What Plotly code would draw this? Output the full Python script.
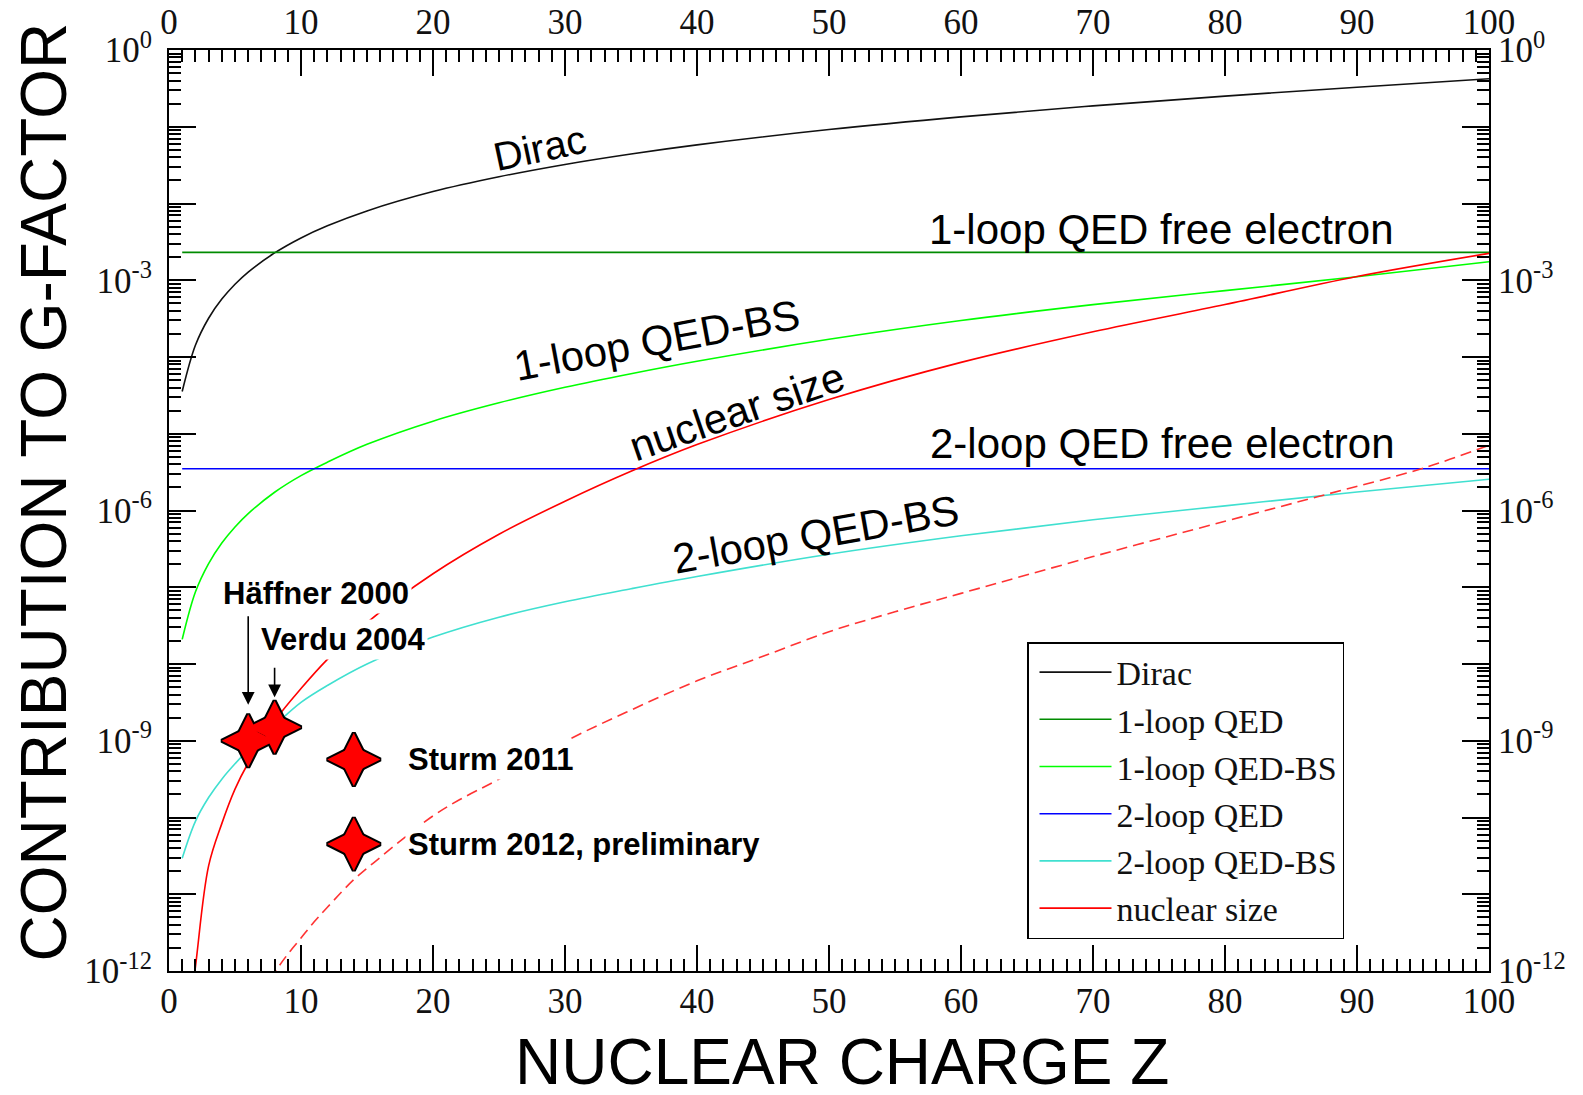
import plotly.graph_objects as go
import numpy as np

# ---------------- data ----------------
Z = [1, 2, 3, 4, 5, 6, 8, 10, 12, 15, 20, 25, 30, 35, 40, 50, 60, 70, 80, 90, 100]

dirac = [3.55e-5, 1.42e-4, 3.20e-4, 5.68e-4, 8.88e-4, 1.28e-3, 2.27e-3, 3.56e-3,
         5.12e-3, 8.01e-3, 1.43e-2, 2.23e-2, 3.23e-2, 4.42e-2, 5.81e-2, 9.19e-2,
         0.1346, 0.1871, 0.2508, 0.3278, 0.4217]

qed1_free = 2.31e-3          # 1-loop QED free electron
qed2_free = 3.5e-6           # 2-loop QED free electron

qed1_bs = [2.09e-8, 8.65e-8, 2.03e-7, 3.77e-7, 6.11e-7, 9.12e-7, 1.73e-6, 2.85e-6,
           4.26e-6, 7.28e-6, 1.46e-5, 2.53e-5, 4.03e-5, 6.05e-5, 8.79e-5, 1.70e-4,
           2.99e-4, 4.81e-4, 7.33e-4, 1.11e-3, 1.74e-3]

qed2_bs = [2.95e-11, 8.91e-11, 1.82e-10, 3.16e-10, 5.01e-10, 7.59e-10, 1.58e-9, 3.16e-9,
           5.25e-9, 1.00e-8, 2.24e-8, 4.07e-8, 6.46e-8, 9.55e-8, 1.38e-7, 2.69e-7,
           4.68e-7, 7.59e-7, 1.15e-6, 1.74e-6, 2.55e-6]

nuc_size = [4.0e-14, 1.12e-12, 2.34e-11, 8.32e-11, 2.34e-10, 5.13e-10, 1.81e-9, 4.79e-9,
            1.15e-8, 3.47e-8, 1.50e-7, 4.91e-7, 1.32e-6, 3.24e-6, 7.22e-6, 2.79e-5,
            8.51e-5, 2.13e-4, 4.82e-4, 1.12e-3, 2.24e-3]

Z_nuc_unc = [7, 8, 9, 10, 11, 12, 14, 16, 18, 20, 22, 25, 30, 35, 40, 45, 50, 55, 60,
             70, 80, 87, 95, 100]
nuc_unc = [5.01e-13, 9.55e-13, 1.66e-12, 2.69e-12, 4.37e-12, 6.76e-12, 1.55e-11, 3.02e-11,
           5.75e-11, 1.05e-10, 1.70e-10, 3.16e-10, 9.77e-10, 2.51e-9, 6.03e-9, 1.26e-8,
           2.63e-8, 4.79e-8, 8.32e-8, 2.51e-7, 7.24e-7, 1.51e-6, 3.55e-6, 7.08e-6]

exp_labels = ["Häffner 2000", "Verdu 2004", "Sturm 2011", "Sturm 2012, preliminary"]
exp_Z = [6, 8, 14, 14]
exp_prec = [1.0e-9, 1.5e-9, 5.7e-10, 4.5e-11]

x_tick_vals = [0, 10, 20, 30, 40, 50, 60, 70, 80, 90, 100]
y_decades = list(range(0, -13, -1))

# ---------------- layout helpers ----------------
W, H = 1583, 1095
L, R, T, B = 169, 1489, 50, 971


def px(x):
    return (x - L) / (R - L)


def py(y):
    return (B - y) / (B - T)


SANS = "Liberation Sans, Arial, sans-serif"
SERIF = "Liberation Serif, Times New Roman, serif"

fig = go.Figure()

# invisible trace to activate the mirrored (top/right) axes
fig.add_trace(go.Scatter(x=Z, y=dirac, xaxis="x2", yaxis="y2", mode="lines",
                         opacity=0, showlegend=False, hoverinfo="skip"))

lw = 1.6
fig.add_trace(go.Scatter(x=Z, y=dirac, name="Dirac", mode="lines",
                         line=dict(color="#111111", width=lw, shape="spline")))
fig.add_trace(go.Scatter(x=[Z[0], Z[-1]], y=[qed1_free, qed1_free], name="1-loop QED",
                         mode="lines", line=dict(color="#008b00", width=lw)))
fig.add_trace(go.Scatter(x=Z, y=qed1_bs, name="1-loop QED-BS", mode="lines",
                         line=dict(color="#00ff00", width=lw, shape="spline")))
fig.add_trace(go.Scatter(x=[Z[0], Z[-1]], y=[qed2_free, qed2_free], name="2-loop QED",
                         mode="lines", line=dict(color="#0000ff", width=lw)))
fig.add_trace(go.Scatter(x=Z, y=qed2_bs, name="2-loop QED-BS", mode="lines",
                         line=dict(color="#40e0d0", width=lw, shape="spline")))
fig.add_trace(go.Scatter(x=Z, y=nuc_size, name="nuclear size", mode="lines",
                         line=dict(color="#ff0000", width=lw, shape="spline")))
fig.add_trace(go.Scatter(x=Z_nuc_unc, y=nuc_unc, mode="lines", showlegend=False,
                         hoverinfo="skip",
                         line=dict(color="#ff3333", width=lw, shape="spline",
                                   dash="11px,6px")))

# four-pointed stars: union of a tall and a wide diamond (outline layer, then fill layer)
star_x = exp_Z + exp_Z
star_y = exp_prec + exp_prec
star_sym = ["diamond-tall"] * len(exp_Z) + ["diamond-wide"] * len(exp_Z)
fig.add_trace(go.Scatter(x=star_x, y=star_y, mode="markers", showlegend=False,
                         hoverinfo="skip",
                         marker=dict(symbol=star_sym, size=38, color="#ff0000",
                                     line=dict(color="black", width=4))))
fig.add_trace(go.Scatter(x=star_x, y=star_y, mode="markers", showlegend=False,
                         text=exp_labels + exp_labels, hoverinfo="text",
                         marker=dict(symbol=star_sym, size=38, color="#ff0000",
                                     line=dict(width=0))))

# ---------------- axes ----------------
tick_font = dict(family=SERIF, size=35, color="#111111")
ytickvals = [10.0 ** d for d in y_decades]
yticktext = [("10<sup>%d</sup>" % d) if d % 3 == 0 else "" for d in y_decades]
yminor = [m * 10.0 ** d for d in y_decades[1:] for m in range(2, 10)]

xcommon = dict(range=[0, 100], tickmode="array", tickvals=x_tick_vals,
               ticks="inside", ticklen=26, tickwidth=2, tickcolor="black",
               minor=dict(ticks="inside", dtick=1, tick0=0, ticklen=12, tickwidth=1.5,
                          tickcolor="black"),
               showline=True, linewidth=2, linecolor="black", showgrid=False,
               zeroline=False, tickfont=tick_font, automargin=False)
ycommon = dict(type="log", range=[-12, 0], tickmode="array", tickvals=ytickvals,
               ticktext=yticktext, ticks="inside", ticklen=27, tickwidth=2,
               tickcolor="black",
               minor=dict(ticks="inside", tickmode="array", tickvals=yminor, ticklen=12,
                          tickwidth=1.5, tickcolor="black"),
               showline=True, linewidth=2, linecolor="black", showgrid=False,
               zeroline=False, tickfont=tick_font, automargin=False)

fig.update_layout(
    width=W, height=H,
    margin=dict(l=L, r=W - R, t=T, b=H - B, pad=0, autoexpand=False),
    paper_bgcolor="white", plot_bgcolor="white",
    xaxis=dict(**xcommon, side="bottom", anchor="y", ticklabelstandoff=-2),
    xaxis2=dict(**xcommon, side="top", overlaying="x", anchor="y", ticklabelstandoff=0),
    yaxis=dict(**ycommon, side="left", anchor="x", ticklabelstandoff=8),
    yaxis2=dict(**ycommon, side="right", overlaying="y", anchor="x", ticklabelstandoff=0),
    legend=dict(x=px(1027), y=py(642), xanchor="left", yanchor="top",
                bgcolor="white", bordercolor="black", borderwidth=1.5,
                font=dict(family=SERIF, size=34, color="#111111"),
                itemwidth=72, indentation=6, tracegroupgap=0),
    showlegend=True,
)

ann = []
# axis titles
ann.append(dict(text="CONTRIBUTION TO G-FACTOR", xref="paper", yref="paper",
                x=px(43.5), y=py(492), xanchor="center", yanchor="middle",
                textangle=-90, showarrow=False,
                font=dict(family=SANS, size=64, color="black")))
ann.append(dict(text="NUCLEAR CHARGE Z", xref="paper", yref="paper",
                x=px(842), y=py(1062), xanchor="center", yanchor="middle",
                showarrow=False, font=dict(family=SANS, size=64, color="black")))

# curve labels
curve_labels = [
    ("Dirac", 539, 148, -12, 40),
    ("1-loop QED free electron", 1161, 230, 0, 42),
    ("1-loop QED-BS", 656, 340, -10.5, 42),
    ("nuclear size", 737, 412, -19, 42),
    ("2-loop QED free electron", 1162, 444, 0, 42),
    ("2-loop QED-BS", 815, 534, -10, 42),
]
for txt, cx, cy, ang, fs in curve_labels:
    ann.append(dict(text=txt, xref="paper", yref="paper", x=px(cx), y=py(cy),
                    xanchor="center", yanchor="middle", textangle=ang,
                    showarrow=False, font=dict(family=SANS, size=fs, color="black")))

# experiment labels (white boxes hide the curves behind them)
exp_label_pos = [(316, 593, "center"), (343, 639, "center"), (405, 759, "left"),
                 (405, 844, "left")]
for lab, (cx, cy, anc) in zip(exp_labels, exp_label_pos):
    ann.append(dict(text="<b>%s</b>" % lab, xref="paper", yref="paper", x=px(cx),
                    y=py(cy), xanchor=anc, yanchor="middle", showarrow=False,
                    bgcolor="white", borderpad=2,
                    font=dict(family=SANS, size=31, color="black")))

# arrows pointing to the first two measurements
for zi, pi, stand, tail in [(exp_Z[0], exp_prec[0], 36, -126), (exp_Z[1], exp_prec[1], 30, -61)]:
    ann.append(dict(text="", x=zi, y=np.log10(pi), xref="x", yref="y",
                    showarrow=True, ax=0, ay=tail, axref="pixel", ayref="pixel",
                    standoff=stand, arrowhead=2, arrowsize=1.6, arrowwidth=1.6,
                    arrowcolor="black"))

fig.update_layout(annotations=ann)

fig.write_html("out.html",
               config={"displayModeBar": False},
               post_script="document.body.style.margin='0px';"
                           "document.body.style.overflow='hidden';")
